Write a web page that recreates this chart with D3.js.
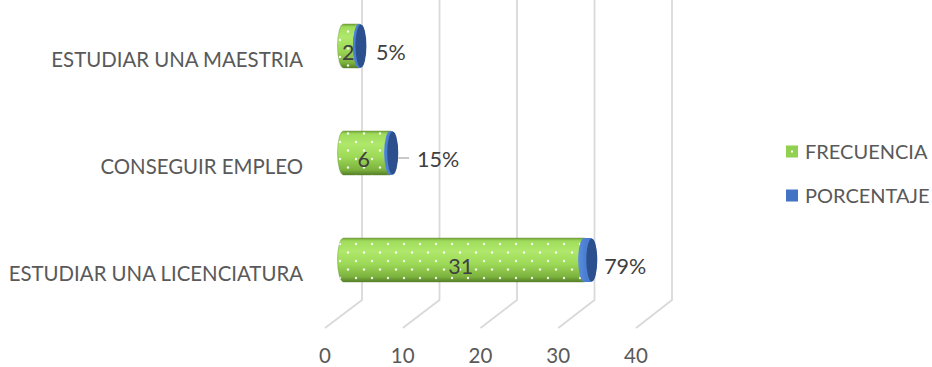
<!DOCTYPE html>
<html>
<head>
<meta charset="utf-8">
<script src="https://cdn.jsdelivr.net/npm/d3@7"></script>
<style>
  html, body { margin: 0; padding: 0; background: #fff; }
  svg { display: block; font-family: Lato, "Open Sans", sans-serif; }
</style>
</head>
<body>
<svg id="chart" width="932" height="367"></svg>
<script>
// Categories, top to bottom
const categories = ["ESTUDIAR UNA MAESTRIA", "CONSEGUIR EMPLEO", "ESTUDIAR UNA LICENCIATURA"];
// FRECUENCIA series
const frecuencia = [2, 6, 31];
// PORCENTAJE series (fractions)
const porcentaje = [0.05, 0.15, 0.79];
const seriesNames = ["FRECUENCIA", "PORCENTAJE"];
const tickValues = [0, 10, 20, 30, 40];

const svg = d3.select("#chart");
const textColor = "#595959";

// Value axis on the back wall, on the front edge of the floor, and at the depth of the bars
const xBack = d3.scaleLinear().domain([0, 40]).range([362, 672]);
const xFront = d3.scaleLinear().domain([0, 40]).range([325, 636]);
const xBar = d3.scaleLinear().domain([0, 40]).range([343.5, 654]);
const y = d3.scalePoint().domain(categories).range([46, 260]);

const floorY = 300, frontY = 328;
const barH = 44, ry = barH / 2, rx = 6;

// Definitions: cylinder shading and dotted fill pattern
const defs = svg.append("defs");
const gGreen = defs.append("linearGradient").attr("id", "gGreen")
  .attr("x1", 0).attr("y1", 0).attr("x2", 0).attr("y2", 1);
[[0, "#74a63a"], [0.07, "#a0dc5c"], [0.3, "#afe86a"], [0.6, "#9cd856"], [0.88, "#7cb23e"], [1, "#557f27"]]
  .forEach(([o, c]) => gGreen.append("stop").attr("offset", o).attr("stop-color", c));

const gBlue = defs.append("linearGradient").attr("id", "gBlue")
  .attr("x1", 0).attr("y1", 0).attr("x2", 1).attr("y2", 0);
[[0, "#5a8ee0"], [1, "#3a68b8"]]
  .forEach(([o, c]) => gBlue.append("stop").attr("offset", o).attr("stop-color", c));

const pat = defs.append("pattern").attr("id", "dots")
  .attr("patternUnits", "userSpaceOnUse").attr("width", 16).attr("height", 17)
  .attr("x", 0).attr("y", 2);
pat.append("circle").attr("cx", 4).attr("cy", 4).attr("r", 1.2).attr("fill", "#ffffff").attr("fill-opacity", 0.9);
pat.append("circle").attr("cx", 12).attr("cy", 12.5).attr("r", 1.2).attr("fill", "#ffffff").attr("fill-opacity", 0.9);

// Gridlines: vertical on the back wall, slanting forward across the floor
const grid = svg.append("g").attr("fill", "none").attr("stroke", "#d9d9d9").attr("stroke-width", 1.8);
grid.selectAll("path").data(tickValues).join("path")
  .attr("d", d => `M${xBack(d)},0 L${xBack(d)},${floorY} L${xFront(d)},${frontY}`);

// Tick labels along the front edge
svg.append("g").selectAll("text").data(tickValues).join("text")
  .attr("x", d => xFront(d)).attr("y", 355.5).attr("dy", "0.36em")
  .attr("text-anchor", "middle").attr("font-size", 20.5).attr("fill", textColor)
  .text(d => d);

// Category labels
svg.append("g").selectAll("text").data(categories).join("text")
  .attr("x", 303).attr("y", d => y(d) + 14).attr("dy", "0.36em")
  .attr("text-anchor", "end").attr("font-size", 20.4).attr("fill", textColor)
  .text(d => d);

// Horizontal cylinder from value a to value b, centred on cy
function cylinder(a, b, cy) {
  const x0 = xBar(a), x1 = xBar(b);
  return `M${x0},${cy - ry} L${x1},${cy - ry} A${rx},${ry} 0 0 1 ${x1},${cy + ry} ` +
         `L${x0},${cy + ry} A${rx},${ry} 0 0 1 ${x0},${cy - ry} Z`;
}

const rows = categories.map((c, i) => ({ cat: c, f: frecuencia[i], p: porcentaje[i] }));
const bars = svg.append("g").selectAll("g").data(rows).join("g");

// FRECUENCIA cylinders
bars.append("path").attr("d", d => cylinder(0, d.f, y(d.cat)))
  .attr("fill", "url(#gGreen)").attr("stroke", "#5d8a2c").attr("stroke-opacity", 0.5).attr("stroke-width", 0.8);
bars.append("path").attr("d", d => cylinder(0, d.f, y(d.cat)))
  .attr("fill", "url(#dots)");

// PORCENTAJE cylinders stacked on the end, with their end face
bars.append("path").attr("d", d => cylinder(d.f, d.f + d.p, y(d.cat)))
  .attr("fill", "url(#gBlue)");
bars.append("ellipse")
  .attr("cx", d => xBar(d.f + d.p)).attr("cy", d => y(d.cat))
  .attr("rx", rx + 0.5).attr("ry", ry).attr("fill", "#4a7fd4");
bars.append("ellipse")
  .attr("cx", d => xBar(d.f + d.p) + 1.5).attr("cy", d => y(d.cat))
  .attr("rx", rx - 0.5).attr("ry", ry - 0.5).attr("fill", "#2c4f8e");

// Value labels for FRECUENCIA
bars.append("text")
  .attr("x", d => (xBar(0) + xBar(d.f)) / 2 - 3).attr("y", d => y(d.cat) + 6).attr("dy", "0.36em")
  .attr("text-anchor", "middle").attr("font-size", 21.5).attr("fill", "#404040")
  .text(d => d.f);

// Value labels for PORCENTAJE; the middle one sits further out on a leader line
const pctShift = d => (d.cat === "CONSEGUIR EMPLEO" ? 10 : 0);
bars.filter(d => pctShift(d) > 0).append("line")
  .attr("x1", d => xBar(d.f + d.p) + rx + 1).attr("x2", d => xBar(d.f) + 17 + pctShift(d) - 8)
  .attr("y1", d => y(d.cat) + 5).attr("y2", d => y(d.cat) + 5)
  .attr("stroke", "#a6a6a6").attr("stroke-width", 1.2);
bars.append("text")
  .attr("x", d => xBar(d.f) + 17 + pctShift(d) + (d.f > 20 ? 3 : 0)).attr("y", d => y(d.cat) + 6.5).attr("dy", "0.36em")
  .attr("text-anchor", "start").attr("font-size", 21.5).attr("fill", "#404040")
  .text(d => d3.format(".0%")(d.p));

// Legend
const legend = svg.append("g").selectAll("g").data(seriesNames).join("g")
  .attr("transform", (d, i) => `translate(786,${145.5 + i * 44})`);
legend.append("rect").attr("width", 12).attr("height", 12)
  .attr("fill", (d, i) => i === 0 ? "#92d050" : "#4472c4");
legend.filter((d, i) => i === 0).append("rect")
  .attr("x", 5).attr("y", 5).attr("width", 2).attr("height", 2).attr("fill", "#ffffff");
legend.append("text").attr("x", 19).attr("y", 6).attr("dy", "0.36em")
  .attr("font-size", 20).attr("fill", textColor)
  .text(d => d);
</script>
</body>
</html>
